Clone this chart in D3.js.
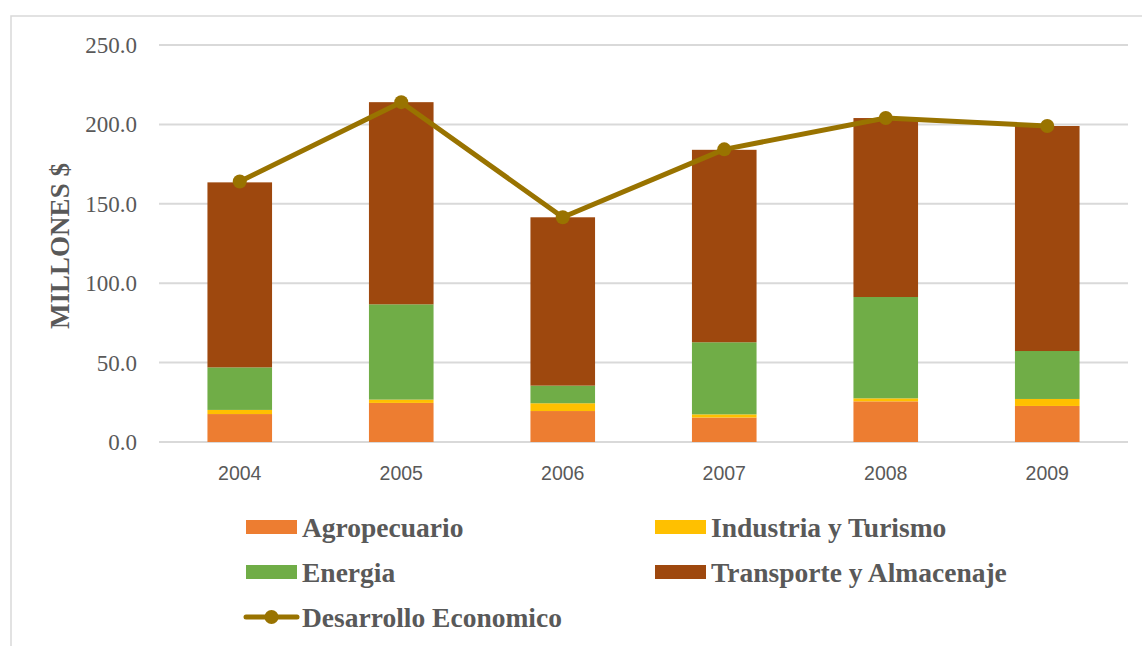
<!DOCTYPE html>
<html>
<head>
<meta charset="utf-8">
<script src="https://cdn.jsdelivr.net/npm/d3@7"></script>
<style>
  body { margin: 0; background: #fff; }
</style>
</head>
<body>
<div id="chart"></div>
<script>
// values (millones $)
const years = ["2004", "2005", "2006", "2007", "2008", "2009"];
const agropecuario = [17.6, 24.6, 19.5, 15.4, 25.6, 22.7];
const industria = [2.6, 2.1, 4.9, 2.0, 1.9, 4.4];
const energia = [26.8, 60.0, 11.1, 45.4, 63.8, 30.2];
const transporte = [116.5, 127.3, 106.0, 121.2, 112.7, 141.7];
const desarrollo = [164.0, 214.0, 141.5, 184.3, 204.0, 199.0];
const yTicks = [0, 50, 100, 150, 200, 250];

const seriesNames = ["Agropecuario", "Industria y Turismo", "Energia", "Transporte y Almacenaje"];
const colors = ["#ED7D31", "#FFC000", "#70AD47", "#9E480E"];
const lineColor = "#997300";

const width = 1142, height = 646;
const plot = { left: 159, right: 1128, top: 45, bottom: 442 };

const svg = d3.select("#chart").append("svg")
  .attr("width", width)
  .attr("height", height);

// chart frame
svg.append("rect")
  .attr("x", 11).attr("y", 16)
  .attr("width", 1140).attr("height", 640)
  .attr("fill", "none")
  .attr("stroke", "#D9D9D9")
  .attr("stroke-width", 1.5);

const x = d3.scaleBand().domain(years).range([plot.left, plot.right]).padding(0);
const y = d3.scaleLinear().domain([0, 250]).range([plot.bottom, plot.top]);

// gridlines
svg.append("g").selectAll("line")
  .data(yTicks)
  .enter().append("line")
  .attr("x1", plot.left).attr("x2", plot.right)
  .attr("y1", d => y(d)).attr("y2", d => y(d))
  .attr("stroke", "#D9D9D9")
  .attr("stroke-width", 2);

// y tick labels
svg.append("g").selectAll("text")
  .data(yTicks)
  .enter().append("text")
  .attr("x", 137)
  .attr("y", d => y(d))
  .attr("dy", "0.35em")
  .attr("text-anchor", "end")
  .attr("font-family", "'Liberation Serif', 'Times New Roman', serif")
  .attr("font-size", 23)
  .attr("fill", "#595959")
  .text(d => d.toFixed(1));

// y axis title
svg.append("text")
  .attr("transform", "translate(60,246) rotate(-90)")
  .attr("dy", "0.35em")
  .attr("text-anchor", "middle")
  .attr("font-family", "'Liberation Serif', 'Times New Roman', serif")
  .attr("font-weight", "bold")
  .attr("font-size", 27)
  .attr("fill", "#595959")
  .text("MILLONES $");

// x labels
svg.append("g").selectAll("text")
  .data(years)
  .enter().append("text")
  .attr("x", d => x(d) + x.bandwidth() / 2)
  .attr("y", 480)
  .attr("text-anchor", "middle")
  .attr("font-family", "'Liberation Sans', Arial, sans-serif")
  .attr("font-size", 19.5)
  .attr("fill", "#595959")
  .text(d => d);

// stacked bars
const rows = years.map((yr, i) => ({
  year: yr,
  "Agropecuario": agropecuario[i],
  "Industria y Turismo": industria[i],
  "Energia": energia[i],
  "Transporte y Almacenaje": transporte[i]
}));
const stacked = d3.stack().keys(seriesNames)(rows);
const barW = x.bandwidth() * 0.4;

svg.append("g").selectAll("g")
  .data(stacked)
  .enter().append("g")
  .attr("fill", (d, i) => colors[i])
  .selectAll("rect")
  .data(d => d)
  .enter().append("rect")
  .attr("x", d => x(d.data.year) + (x.bandwidth() - barW) / 2)
  .attr("y", d => y(d[1]))
  .attr("width", barW)
  .attr("height", d => y(d[0]) - y(d[1]));

// line series
const line = d3.line()
  .x((d, i) => x(years[i]) + x.bandwidth() / 2)
  .y(d => y(d));

svg.append("path")
  .datum(desarrollo)
  .attr("d", line)
  .attr("fill", "none")
  .attr("stroke", lineColor)
  .attr("stroke-width", 5)
  .attr("stroke-linejoin", "round");

svg.append("g").selectAll("circle")
  .data(desarrollo)
  .enter().append("circle")
  .attr("cx", (d, i) => x(years[i]) + x.bandwidth() / 2)
  .attr("cy", d => y(d))
  .attr("r", 7)
  .attr("fill", lineColor);

// legend
const legendFont = "'Liberation Serif', 'Times New Roman', serif";
const legendSize = 27.5;
const legendItems = [
  { name: seriesNames[0], color: colors[0], x: 246, y: 527 },
  { name: seriesNames[1], color: colors[1], x: 655, y: 527 },
  { name: seriesNames[2], color: colors[2], x: 246, y: 572 },
  { name: seriesNames[3], color: colors[3], x: 655, y: 572 }
];

const legend = svg.append("g");
legendItems.forEach(item => {
  legend.append("rect")
    .attr("x", item.x).attr("y", item.y - 7)
    .attr("width", 51).attr("height", 14)
    .attr("fill", item.color);
  legend.append("text")
    .attr("x", item.x + 56).attr("y", item.y)
    .attr("dy", "0.35em")
    .attr("font-family", legendFont)
    .attr("font-weight", "bold")
    .attr("font-size", legendSize)
    .attr("fill", "#595959")
    .text(item.name);
});

legend.append("line")
  .attr("x1", 246).attr("x2", 297)
  .attr("y1", 617).attr("y2", 617)
  .attr("stroke", lineColor)
  .attr("stroke-width", 5)
  .attr("stroke-linecap", "round");
legend.append("circle")
  .attr("cx", 271.5).attr("cy", 617).attr("r", 7)
  .attr("fill", lineColor);
legend.append("text")
  .attr("x", 302).attr("y", 617)
  .attr("dy", "0.35em")
  .attr("font-family", legendFont)
  .attr("font-weight", "bold")
  .attr("font-size", legendSize)
  .attr("fill", "#595959")
  .text("Desarrollo Economico");
</script>
</body>
</html>
